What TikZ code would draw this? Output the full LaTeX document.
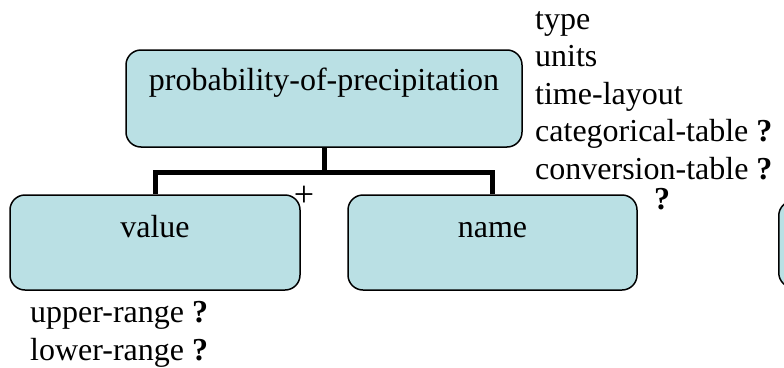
\documentclass[tikz,border=0pt]{standalone}
\usepackage{fontspec}
\setmainfont{Liberation Serif}
\definecolor{boxfill}{RGB}{186,224,228}
\tikzset{
  elem/.style={draw=black, line width=1.5pt, fill=boxfill, rounded corners=15pt,
    inner sep=0pt, font=\fontsize{32}{37.5}\selectfont},
  tree/.style={line width=5pt},
  txt/.style={inner sep=0pt, font=\fontsize{32}{37.5}\selectfont}
}
\begin{document}
\begin{tikzpicture}[x=1pt,y=-1pt]
  \useasboundingbox (0,0) rectangle (784,367);

  % element boxes
  \node[elem, minimum width=396pt, text height=40pt, text depth=57pt] (pop) at (324,98.5) {probability-of-precipitation};
  \node[elem, minimum width=290pt, text height=42pt, text depth=53pt] (value) at (155,242.5) {value};
  \node[elem, minimum width=289pt, text height=42pt, text depth=53pt] (name) at (492.5,242.5) {name};
  \node[elem, minimum width=100pt, minimum height=87pt, anchor=north west] (next) at (778,200) {};

  % tree
  \draw[tree] (pop.south) -- ++(0,25) -| (value.north);
  \draw[tree] (pop.south) -- ++(0,25) -| (name.north);

  \node[txt, font=\fontsize{36}{40}\selectfont] (plus) at (304,196) {+};
  \node[txt] (opt) at (662,199) {\textbf{?}};

  % attributes
  \foreach \t [count=\i] in {type, units, time-layout, categorical-table \textbf{?}, conversion-table \textbf{?}}
    \node[txt, anchor=base west] (attr\i) at (535,{29+37.5*(\i-1)}) {\t};
  \node[txt, anchor=base west] (upper) at (30,322) {upper-range \textbf{?}};
  \node[txt, anchor=base west] (lower) at (30,360) {lower-range \textbf{?}};
\end{tikzpicture}
\end{document}
